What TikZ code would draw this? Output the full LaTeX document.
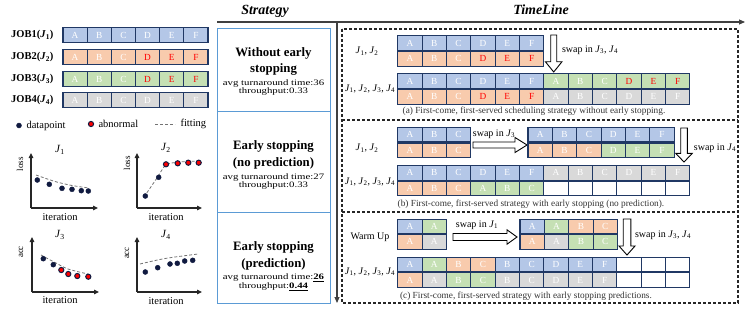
\documentclass[tikz,border=0pt]{standalone}
\usepackage{fontspec}
\setmainfont{Liberation Serif}
\newfontfamily\widerm[FakeStretch=1.3]{Liberation Serif}
\usetikzlibrary{arrows.meta, positioning, calc}

\definecolor{jobblue}{HTML}{B4C7E7}
\definecolor{joborange}{HTML}{F8CBAD}
\definecolor{jobgreen}{HTML}{C5E0B4}
\definecolor{jobgray}{HTML}{D9D9D9}
\definecolor{cellline}{HTML}{203864}
\definecolor{stratline}{HTML}{5B9BD5}
\definecolor{dotnavy}{HTML}{101A40}

\newcommand{\jj}[1]{\textit{J}\textsubscript{#1}}
% one row of job cells: name, x start, y centre, cell width, cells
\newcommand{\cellrow}[5]{%
  \foreach [count=\i] \s/\l in {#5}
    \node[cell, minimum width=#4pt, \s] (#1-\i) at ({#2+(\i-0.5)*#4}, #3) {\l};%
}
% hollow arrows: x, top, tip, head start, half shaft, half head
\newcommand{\hollowdown}[6]{%
  \draw[hollow] ({#1-#5},#2) -- ({#1+#5},#2) -- ({#1+#5},#4) -- ({#1+#6},#4)
    -- (#1,#3) -- ({#1-#6},#4) -- ({#1-#5},#4) -- cycle;%
}
% y, left, tip, head start, half shaft, half head
\newcommand{\hollowright}[6]{%
  \draw[hollow] (#2,{#1-#5}) -- (#4,{#1-#5}) -- (#4,{#1-#6}) -- (#3,#1)
    -- (#4,{#1+#6}) -- (#4,{#1+#5}) -- (#2,{#1+#5}) -- cycle;%
}

\begin{document}
\begin{tikzpicture}[
    x=1pt, y=-1pt,
    font=\fontsize{10}{11}\selectfont,
    cell/.style={
        rectangle,
        draw=cellline,
        line width=1.1pt,
        minimum height=14.5pt,
        inner sep=0pt,
        text=white,
        font=\fontsize{9.3}{9}\selectfont
    },
    cb/.style={fill=jobblue},
    co/.style={fill=joborange},
    cor/.style={fill=joborange, text=red},
    cg/.style={fill=jobgreen},
    cgr/.style={fill=jobgreen, text=red},
    cy/.style={fill=jobgray},
    cw/.style={fill=white},
    stratbox/.style={
        rectangle,
        draw=stratline,
        line width=1pt,
        minimum width=113pt
    },
    strattitle/.style={
        align=center,
        font=\fontsize{12.8}{16.5}\selectfont\bfseries
    },
    stratinfo/.style={
        align=center,
        font=\widerm\fontsize{8.3}{8.8}\selectfont
    },
    heading/.style={font=\fontsize{14}{14}\selectfont\bfseries\itshape},
    panel/.style={draw=black!85, line width=1.1pt, dash pattern=on 3pt off 2pt},
    caption/.style={font=\fontsize{9.3}{10}\selectfont, text=black!80},
    hollow/.style={draw=black, fill=white, line width=0.9pt, line join=miter},
    swaplabel/.style={font=\fontsize{10}{10}\selectfont},
    rowlabel/.style={font=\fontsize{10}{10}\selectfont},
    joblabel/.style={anchor=east, font=\fontsize{10.5}{10}\selectfont\bfseries},
    axis/.style={line width=1.1pt, black!85, -{Triangle[length=5pt, width=4.5pt]}},
    mainaxis/.style={line width=1.1pt, black!75, -{Triangle[length=6pt, width=5pt]}},
    fitline/.style={dash pattern=on 3pt off 2pt, black!55, line width=0.8pt},
    datapt/.style={fill=dotnavy, draw=dotnavy, line width=0.4pt},
    abnpt/.style={fill=red, draw=dotnavy, line width=1pt},
    plotlabel/.style={font=\fontsize{10.5}{10}\selectfont},
    ylab/.style={rotate=90, font=\fontsize{9}{9}\selectfont},
    jtitle/.style={font=\fontsize{11}{11}\selectfont}
]
\useasboundingbox (0,0) rectangle (747,316);

% Headings and the two axes
\node[heading] (hstrat) at (265,11) {Strategy};
\node[heading] (htime) at (541,10) {TimeLine};
\coordinate (axl) at (217,22);
\coordinate (axr) at (745,22);
\coordinate (axc) at (337,22);
\coordinate (axb) at (337,303);
\draw[mainaxis] (axl) -- (axr);
\draw[mainaxis] (axc) -- (axb);

% Left: the four jobs
\node[joblabel] (job1) at (57,35) {JOB1(\jj1)};
\node[joblabel] (job2) at (57,57) {JOB2(\jj2)};
\node[joblabel] (job3) at (57,79) {JOB3(\jj3)};
\node[joblabel] (job4) at (57,100) {JOB4(\jj4)};
\cellrow{j1}{63}{35}{24.17}{cb/A, cb/B, cb/C, cb/D, cb/E, cb/F}
\cellrow{j2}{63}{57}{24.17}{co/A, co/B, co/C, cor/D, cor/E, cor/F}
\cellrow{j3}{63}{79}{24.17}{cg/A, cg/B, cg/C, cgr/D, cgr/E, cgr/F}
\cellrow{j4}{63}{100}{24.17}{cy/A, cy/B, cy/C, cy/D, cy/E, cy/F}

% Legend
\filldraw[datapt] (19,125.5) circle (2.5);
\node[plotlabel, anchor=west] (legdp) at (23,125.5) {datapoint};
\filldraw[abnpt] (91,124) circle (2.6);
\node[plotlabel, anchor=west] (legab) at (95,124) {abnormal};
\draw[fitline] (155,124) -- (175,124);
\node[plotlabel, anchor=west] (legfit) at (177,124) {fitting};

% Small plots
\node[jtitle] (tj1) at (60,150) {\jj1};
\node[jtitle] (tj2) at (166,148) {\jj2};
\node[jtitle] (tj3) at (60,235) {\jj3};
\node[jtitle] (tj4) at (166,235) {\jj4};

\draw[axis] (31,208) -- (31,153);
\draw[axis] (31,208) -- (98,208);
\draw[axis] (137,208) -- (137,153);
\draw[axis] (137,208) -- (202,208);
\draw[axis] (32,292) -- (32,237);
\draw[axis] (32,292) -- (99,292);
\draw[axis] (137,292) -- (137,237);
\draw[axis] (137,292) -- (202,292);

\node[ylab] (yl1) at (20,164) {loss};
\node[ylab] (yl2) at (127,163) {loss};
\node[ylab] (yl3) at (21,252) {acc};
\node[ylab] (yl4) at (127,253) {acc};
\node[plotlabel] (xl1) at (60,217) {iteration};
\node[plotlabel] (xl2) at (166,217) {iteration};
\node[plotlabel] (xl3) at (60,300) {iteration};
\node[plotlabel] (xl4) at (166,301) {iteration};

\draw[fitline] plot[smooth] coordinates {(36,175) (55,181.5) (72,185.5) (89,188)};
\draw[fitline] plot[smooth] coordinates {(144,197) (157,178) (166,165) (180,162) (199,161)};
\draw[fitline] plot[smooth] coordinates {(41,255) (55,262.5) (68,269) (88,274)};
\draw[fitline] plot[smooth] coordinates {(140,264) (165,258.5) (198,254)};

\foreach \p in {(37.3,180), (49.3,184.3), (62,188.3), (72,189.3), (81.3,190.7), (88.3,191),
                (145.3,196), (158.7,177.3),
                (43.3,258.7), (53.3,264.7),
                (145.3,272), (157.7,267.7), (170,264), (177.3,263.3), (184.7,261), (192.7,260.3)}
    \filldraw[datapt] \p circle (2.5);
\foreach \p in {(166,164.3), (177.7,163.3), (188.3,162.7), (198.7,162.7),
                (61.3,270), (68.3,274), (77.3,276), (88.3,276.7)}
    \filldraw[abnpt] \p circle (2.6);

% Middle: strategies
\node[stratbox, minimum height=83pt] (s1) at (273.5,69.5) {};
\node[stratbox, minimum height=101pt] (s2) at (273.5,161.5) {};
\node[stratbox, minimum height=91pt] (s3) at (273.5,257.5) {};

\node[strattitle] (s1t) at (273.5,61.5) {Without early\\stopping};
\node[stratinfo] (s1d) at (273.5,87.5) {avg turnaround time:36\\throughput:0.33};
\node[strattitle] (s2t) at (273.5,155) {Early stopping\\(no prediction)};
\node[stratinfo] (s2d) at (273.5,181.5) {avg turnaround time:27\\throughput:0.33};
\node[strattitle] (s3t) at (273.5,256) {Early stopping\\(prediction)};
\node[stratinfo] (s3d) at (273.5,282.5) {avg turnaround time:\textbf{\underline{26}}\\throughput:\textbf{\underline{0.44}}};

% Right: timeline panels
\draw[panel] (342,29) rectangle (738,303);
\draw[panel] (342,120) -- (738,120);
\draw[panel] (342,212) -- (738,212);

% (a)
\node[rowlabel] (la1) at (367,51) {\jj1, \jj2};
\node[rowlabel] (la2) at (370,89) {\jj1, \jj2, \jj3, \jj4};
\cellrow{a1}{397.7}{43}{24.35}{cb/A, cb/B, cb/C, cb/D, cb/E, cb/F}
\cellrow{a2}{397.7}{58.8}{24.35}{co/A, co/B, co/C, cor/D, cor/E, cor/F}
\cellrow{a3}{397.7}{81}{24.35}{cb/A, cb/B, cb/C, cb/D, cb/E, cb/F,
                                cg/A, cg/B, cg/C, cgr/D, cgr/E, cgr/F}
\cellrow{a4}{397.7}{96.8}{24.35}{co/A, co/B, co/C, cor/D, cor/E, cor/F,
                                 cy/A, cy/B, cy/C, cy/D, cy/E, cy/F}
\hollowdown{553.7}{35}{72}{61.7}{3}{8.3}
\node[swaplabel] (swa) at (590,50) {swap in \jj3, \jj4};
\node[caption] (capa) at (534,111) {(a) First-come, first-served scheduling strategy without early stopping.};

% (b)
\node[rowlabel] (lb1) at (367,148) {\jj1, \jj2};
\node[rowlabel] (lb2) at (370,182) {\jj1, \jj2, \jj3, \jj4};
\cellrow{b1}{397.7}{134.7}{24.35}{cb/A, cb/B, cb/C}
\cellrow{b2}{397.7}{150.3}{24.35}{co/A, co/B, co/C}
\hollowright{145}{473}{527}{515}{3}{7.5}
\node[swaplabel] (swb1) at (494,134) {swap in \jj3};
\cellrow{b3}{528}{134.7}{24.35}{cb/A, cb/B, cb/C, cb/D, cb/E, cb/F}
\cellrow{b4}{528}{150.3}{24.35}{co/A, co/B, co/C, cg/D, cg/E, cg/F}
\hollowdown{684}{128}{162}{153.3}{3.3}{8.3}
\node[swaplabel] (swb2) at (715,148) {swap in \jj4};
\cellrow{b5}{397.7}{172.9}{24.35}{cb/A, cb/B, cb/C, cb/D, cb/E, cb/F,
                                  cy/A, cy/B, cy/C, cy/D, cy/E, cy/F}
\cellrow{b6}{397.7}{188.5}{24.35}{co/A, co/B, co/C, cg/A, cg/B, cg/C,
                                  cw/{}, cw/{}, cw/{}, cw/{}, cw/{}, cw/{}}
\node[caption] (capb) at (531,204) {(b) First-come, first-served strategy with early stopping (no prediction).};

% (c)
\node[rowlabel] (lc1) at (370,237) {Warm Up};
\node[rowlabel] (lc2) at (370,272) {\jj1, \jj2, \jj3, \jj4};
\cellrow{c1}{397.7}{226.3}{24.35}{cb/A, cg/A}
\cellrow{c2}{397.7}{241.9}{24.35}{co/A, cy/A}
\hollowright{237}{453}{517}{507}{3.5}{7.2}
\node[swaplabel] (swc1) at (477,225) {swap in \jj1};
\cellrow{c3}{520}{226.3}{24.35}{cb/A, cg/A, co/B, co/C}
\cellrow{c4}{520}{241.9}{24.35}{co/A, cy/A, cg/B, cg/C}
\hollowdown{627}{219}{255}{246}{3.8}{8}
\node[swaplabel] (swc2) at (663,235) {swap in \jj3, \jj4};
\cellrow{c5}{397.7}{264.5}{24.35}{cb/A, cg/A, co/B, co/C, cb/B, cb/C,
                                  cb/D, cb/E, cb/F, cw/{}, cw/{}, cw/{}}
\cellrow{c6}{397.7}{280.1}{24.35}{co/A, cy/A, cg/B, cg/C, cy/B, cy/C,
                                  cy/D, cy/E, cy/F, cw/{}, cw/{}, cw/{}}
\node[caption] (capc) at (526,296) {(c) First-come, first-served strategy with early stopping predictions.};

\end{tikzpicture}
\end{document}
